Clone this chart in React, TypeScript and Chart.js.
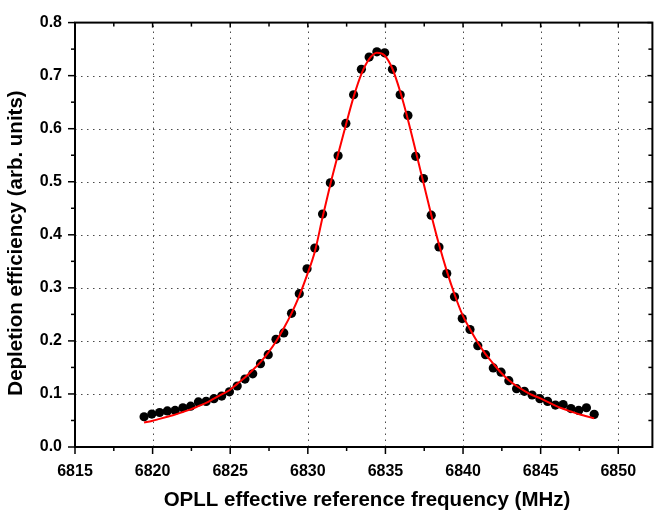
import React, { useEffect, useRef } from "react";
import { Chart, registerables } from "chart.js";

Chart.register(...registerables);

const freqMHz = [
  6819.45, 6819.95, 6820.45, 6820.95, 6821.45, 6821.95, 6822.45, 6822.95, 6823.45, 6823.95,
  6824.45, 6824.95, 6825.45, 6825.95, 6826.45, 6826.95, 6827.45, 6827.95, 6828.45, 6828.95,
  6829.45, 6829.95, 6830.45, 6830.95, 6831.45, 6831.95, 6832.45, 6832.95, 6833.45, 6833.95,
  6834.45, 6834.95, 6835.45, 6835.95, 6836.45, 6836.95, 6837.45, 6837.95, 6838.45, 6838.95,
  6839.45, 6839.95, 6840.45, 6840.95, 6841.45, 6841.95, 6842.45, 6842.95, 6843.45, 6843.95,
  6844.45, 6844.95, 6845.45, 6845.95, 6846.45, 6846.95, 6847.45, 6847.95, 6848.45,
];

const measured = [
  0.057, 0.062, 0.065, 0.068, 0.069, 0.074, 0.077, 0.085, 0.086, 0.091,
  0.096, 0.104, 0.115, 0.128, 0.138, 0.157, 0.174, 0.203, 0.215, 0.252,
  0.289, 0.336, 0.375, 0.439, 0.498, 0.549, 0.610, 0.664, 0.712, 0.735,
  0.745, 0.743, 0.712, 0.664, 0.625, 0.548, 0.506, 0.437, 0.377, 0.327,
  0.283, 0.242, 0.2215, 0.191, 0.174, 0.149, 0.141, 0.125, 0.110, 0.105,
  0.098, 0.091, 0.086, 0.079, 0.080, 0.0725, 0.069, 0.074, 0.0615,
];

const fitted = [
  0.046, 0.049, 0.053, 0.057, 0.061, 0.066, 0.071, 0.077, 0.083, 0.091,
  0.099, 0.107, 0.119, 0.131, 0.145, 0.160, 0.178, 0.199, 0.224, 0.252,
  0.285, 0.324, 0.368, 0.433, 0.495, 0.552, 0.607, 0.660, 0.703, 0.731,
  0.743, 0.738, 0.713, 0.670, 0.617, 0.558, 0.498, 0.438, 0.382, 0.332,
  0.288, 0.250, 0.222, 0.197, 0.175, 0.157, 0.140, 0.126, 0.115, 0.106,
  0.098, 0.092, 0.085, 0.078, 0.072, 0.067, 0.062, 0.058, 0.054,
];

const xMajorTicks = [6815, 6820, 6825, 6830, 6835, 6840, 6845, 6850];
const xMinorTicks = [6817.5, 6822.5, 6827.5, 6832.5, 6837.5, 6842.5, 6847.5, 6852.5];
const yMajorTicks = [0.0, 0.1, 0.2, 0.3, 0.4, 0.5, 0.6, 0.7, 0.8];
const yMinorTicks = [0.05, 0.15, 0.25, 0.35, 0.45, 0.55, 0.65, 0.75];

const xTitle = "OPLL effective reference frequency (MHz)";
const yTitle = "Depletion efficiency (arb. units)";

const FONT = "'Liberation Sans', Arial, sans-serif";

const framePlugin = {
  id: "originFrame",
  beforeDatasetsDraw(chart: any) {
    const { ctx, chartArea, scales } = chart;
    const { left, right, top, bottom } = chartArea;
    ctx.save();
    ctx.strokeStyle = "#4a4a4a";
    ctx.lineWidth = 1;
    ctx.setLineDash([1.5, 4.5]);
    for (const v of xMajorTicks) {
      const px = Math.round(scales.x.getPixelForValue(v)) + 0.5;
      if (px <= left + 2 || px >= right - 2) continue;
      ctx.beginPath();
      ctx.moveTo(px, bottom);
      ctx.lineTo(px, top);
      ctx.stroke();
    }
    for (const v of yMajorTicks) {
      const py = Math.round(scales.y.getPixelForValue(v)) + 0.5;
      if (py <= top + 2 || py >= bottom - 2) continue;
      ctx.beginPath();
      ctx.moveTo(left, py);
      ctx.lineTo(right, py);
      ctx.stroke();
    }
    ctx.restore();
  },
  afterDraw(chart: any) {
    const { ctx, chartArea, scales } = chart;
    const { left, right, top, bottom } = chartArea;
    ctx.save();
    ctx.strokeStyle = "#000000";
    ctx.setLineDash([]);
    ctx.lineWidth = 1.5;
    const line = (x1: number, y1: number, x2: number, y2: number) => {
      ctx.beginPath();
      ctx.moveTo(x1, y1);
      ctx.lineTo(x2, y2);
      ctx.stroke();
    };
    for (const v of xMajorTicks) {
      const px = scales.x.getPixelForValue(v);
      if (px < left - 1 || px > right + 1) continue;
      line(px, bottom, px, bottom + 7);
      line(px, top, px, top + 5);
    }
    for (const v of xMinorTicks) {
      const px = scales.x.getPixelForValue(v);
      if (px < left - 1 || px > right + 1) continue;
      line(px, bottom, px, bottom + 4);
      line(px, top, px, top + 4);
    }
    for (const v of yMajorTicks) {
      const py = scales.y.getPixelForValue(v);
      line(left - 7, py, left, py);
      line(right - 5, py, right, py);
    }
    for (const v of yMinorTicks) {
      const py = scales.y.getPixelForValue(v);
      line(left - 4, py, left, py);
      line(right - 4, py, right, py);
    }
    ctx.lineWidth = 2;
    ctx.strokeRect(left, top, right - left, bottom - top);

    // axis titles
    ctx.fillStyle = "#000000";
    ctx.font = `bold 20.5px ${FONT}`;
    ctx.textAlign = "center";
    ctx.textBaseline = "middle";
    ctx.fillText(xTitle, 367, 500);
    ctx.translate(16, 243);
    ctx.rotate(-Math.PI / 2);
    ctx.fillText(yTitle, 0, 0);
    ctx.restore();
  },
};

export default function App() {
  const canvasRef = useRef<HTMLCanvasElement | null>(null);

  useEffect(() => {
    document.body.style.margin = "0";
    const canvas = canvasRef.current;
    if (!canvas) return;
    const chart = new Chart(canvas, {
      type: "scatter",
      data: {
        datasets: [
          {
            type: "line",
            label: "Fit",
            data: freqMHz.map((x, i) => ({ x, y: fitted[i] })),
            borderColor: "#ff0000",
            borderWidth: 2,
            pointRadius: 0,
            fill: false,
            cubicInterpolationMode: "monotone",
            order: 0,
          } as any,
          {
            type: "scatter",
            label: "Data",
            data: freqMHz.map((x, i) => ({ x, y: measured[i] })),
            backgroundColor: "#000000",
            borderColor: "#000000",
            pointRadius: 4.6,
            pointBorderWidth: 0,
            order: 1,
          },
        ],
      },
      options: {
        animation: false,
        responsive: false,
        maintainAspectRatio: false,
        layout: { padding: { top: 13, right: 1, left: 0, bottom: 0 } },
        plugins: {
          legend: { display: false },
          tooltip: { enabled: false },
        },
        scales: {
          x: {
            type: "linear",
            min: 6815,
            max: 6852.2,
            grid: { display: false, drawTicks: false },
            border: { display: false },
            ticks: {
              stepSize: 5,
              includeBounds: false,
              padding: 15,
              color: "#000000",
              font: { family: FONT, size: 16, weight: "bold" },
              callback: (v: any) => String(v),
              maxRotation: 0,
            },
            title: { display: false },
            afterFit: (s: any) => {
              s.height = 68;
            },
          },
          y: {
            type: "linear",
            min: 0,
            max: 0.8,
            grid: { display: false, drawTicks: false },
            border: { display: false },
            ticks: {
              stepSize: 0.1,
              includeBounds: false,
              padding: 13,
              color: "#000000",
              font: { family: FONT, size: 16, weight: "bold" },
              callback: (v: any) => Number(v).toFixed(1),
            },
            title: { display: false },
            afterFit: (s: any) => {
              s.width = 75;
            },
          },
        },
      },
      plugins: [framePlugin],
    });
    return () => chart.destroy();
  }, []);

  return (
    <div style={{ width: 657, height: 515, background: "#ffffff" }}>
      <canvas ref={canvasRef} width={657} height={515} style={{ display: "block" }} />
    </div>
  );
}
